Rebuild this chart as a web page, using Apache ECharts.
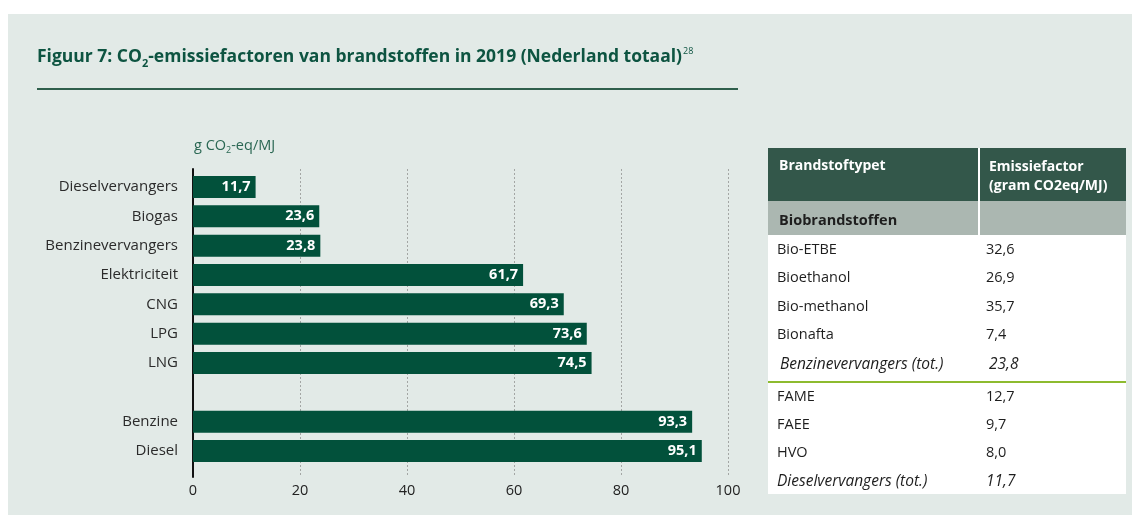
<!DOCTYPE html>
<html>
<head>
<meta charset="utf-8">
<style>
  html, body { margin: 0; padding: 0; background: #ffffff; }
  #chart { width: 1132px; height: 515px; }
</style>
<script src="https://cdn.jsdelivr.net/npm/echarts@6/dist/echarts.min.js"></script>
</head>
<body>
<div id="chart"></div>
<script>
// Emission factors per fuel type (g CO2-eq/MJ); the empty entry is a spacer row
const categories = ['Dieselvervangers', 'Biogas', 'Benzinevervangers', 'Elektriciteit', 'CNG', 'LPG', 'LNG', '', 'Benzine', 'Diesel'];
const values = [11.7, 23.6, 23.8, 61.7, 69.3, 73.6, 74.5, null, 93.3, 95.1];
const axisMin = 0;
const axisMax = 100;
const axisStep = 20;

// Side table: biofuel components and their emission factors
const tableHeader = ['Brandstoftypet', 'Emissiefactor\n(gram CO2eq/MJ)'];
const tableGroup = 'Biobrandstoffen';
const petrolRows = [['Bio-ETBE', '32,6'], ['Bioethanol', '26,9'], ['Bio-methanol', '35,7'], ['Bionafta', '7,4']];
const petrolTotal = ['Benzinevervangers (tot.)', '23,8'];
const dieselRows = [['FAME', '12,7'], ['FAEE', '9,7'], ['HVO', '8,0']];
const dieselTotal = ['Dieselvervangers (tot.)', '11,7'];

const FONT = '"Open Sans", "Noto Sans", sans-serif';
const GREEN = '#02513b';
const fmt = v => String(v).replace('.', ',');

// ---- table graphics ----
const T = { x0: 768, x1: 1126, xDiv: 979, c1: 777, c2: 986 };
const tableEls = [];
tableEls.push({ type: 'rect', shape: { x: T.x0, y: 148, width: T.x1 - T.x0, height: 346 }, style: { fill: '#ffffff' } });
tableEls.push({ type: 'rect', shape: { x: T.x0, y: 148, width: T.x1 - T.x0, height: 53 }, style: { fill: '#33574a' } });
tableEls.push({ type: 'rect', shape: { x: T.x0, y: 201, width: T.x1 - T.x0, height: 34 }, style: { fill: '#abb7b1' } });
tableEls.push({ type: 'line', shape: { x1: T.xDiv, y1: 148, x2: T.xDiv, y2: 235 }, style: { stroke: '#ffffff', lineWidth: 2 } });
tableEls.push({ type: 'text', x: T.c1 + 2, y: 159, style: { text: tableHeader[0], fill: '#ffffff', font: 'bold 14px ' + FONT } });
tableEls.push({ type: 'text', x: T.c2 + 3, y: 158, style: { text: tableHeader[1], fill: '#ffffff', font: 'bold 14px ' + FONT, lineHeight: 19 } });
tableEls.push({ type: 'text', x: T.c1 + 2, y: 221, style: { text: tableGroup, fill: '#1e1e1e', font: 'bold 14.5px ' + FONT, verticalAlign: 'middle' } });

function addRow(row, y, italic, shift) {
  const f = italic ? 'italic 15.5px ' + FONT : '14.5px ' + FONT;
  tableEls.push({ type: 'text', x: T.c1 + shift, y: y, style: { text: row[0], fill: '#1e1e1e', font: f, verticalAlign: 'middle' } });
  tableEls.push({ type: 'text', x: T.c2 + shift, y: y, style: { text: row[1], fill: '#1e1e1e', font: f, verticalAlign: 'middle' } });
}
petrolRows.forEach((r, i) => addRow(r, 250 + i * 28.3, false, 0));
addRow(petrolTotal, 365, true, 3);
tableEls.push({ type: 'line', shape: { x1: T.x0, y1: 382, x2: T.x1, y2: 382 }, style: { stroke: '#8dbb2f', lineWidth: 2 } });
dieselRows.forEach((r, i) => addRow(r, 397 + i * 28, false, 0));
addRow(dieselTotal, 482, true, 0);

const chart = echarts.init(document.getElementById('chart'), null, { renderer: 'canvas' });

chart.setOption({
  backgroundColor: '#ffffff',
  animation: false,
  graphic: [
    { type: 'rect', z: -10, shape: { x: 8, y: 14, width: 1124, height: 501 }, style: { fill: '#e2eae7' } },
    { type: 'text', x: 37, y: 57, style: {
        text: '{t|Figuur 7: CO}{s|2}{t|-emissiefactoren van brandstoffen in 2019 (Nederland totaal)}{p|28}',
        verticalAlign: 'middle',
        rich: {
          t: { font: 'bold 17.5px ' + FONT, fill: '#0d5441', lineHeight: 26 },
          s: { font: 'bold 11px ' + FONT, fill: '#0d5441', lineHeight: 26, padding: [13, 0, 0, 0] },
          p: { font: '9px ' + FONT, fill: '#0d5441', lineHeight: 26, padding: [0, 0, 11, 1] }
        } } },
    { type: 'line', shape: { x1: 37, y1: 89, x2: 738, y2: 89 }, style: { stroke: '#2f5f4c', lineWidth: 2 } },
    { type: 'text', x: 194, y: 146, style: {
        text: '{t|g CO}{s|2}{t|-eq/MJ}', verticalAlign: 'middle',
        rich: {
          t: { font: '14.5px ' + FONT, fill: '#2a6753', lineHeight: 20 },
          s: { font: '9px ' + FONT, fill: '#2a6753', lineHeight: 20, padding: [9, 0, 0, 0] }
        } } },
    ...tableEls
  ],
  grid: [
    // bars and category names
    { left: 193, right: 404, top: 172.3, height: 293.4, containLabel: false },
    // value scale, grid lines and axis line
    { left: 193, right: 404, top: 169, bottom: 38, containLabel: false }
  ],
  xAxis: [
    { gridIndex: 0, type: 'value', min: axisMin, max: axisMax, interval: axisStep, show: false },
    { gridIndex: 1, type: 'value', min: axisMin, max: axisMax, interval: axisStep,
      axisLine: { show: false }, axisTick: { show: false },
      axisLabel: { color: '#222222', fontSize: 14.5, fontFamily: FONT, margin: 6 },
      splitLine: { show: true, lineStyle: { color: '#a3a6a4', width: 1, type: [2, 2] } } }
  ],
  yAxis: [
    { gridIndex: 0, type: 'category', data: categories, inverse: true,
      axisLine: { show: false }, axisTick: { show: false }, splitLine: { show: false },
      axisLabel: { color: '#2b2b2b', fontSize: 15, fontFamily: FONT, margin: 15 } },
    { gridIndex: 1, type: 'category', data: [''],
      axisLine: { show: true, lineStyle: { color: '#111111', width: 2 } },
      axisTick: { show: false }, axisLabel: { show: false }, splitLine: { show: false } }
  ],
  series: [{
    type: 'bar',
    xAxisIndex: 0,
    yAxisIndex: 0,
    data: values,
    barWidth: 22,
    itemStyle: { color: GREEN },
    label: {
      show: true, position: 'insideRight', distance: 5,
      color: '#ffffff', fontWeight: 'bold', fontSize: 14.5, fontFamily: FONT,
      formatter: p => fmt(p.value)
    }
  }]
});
</script>
</body>
</html>
